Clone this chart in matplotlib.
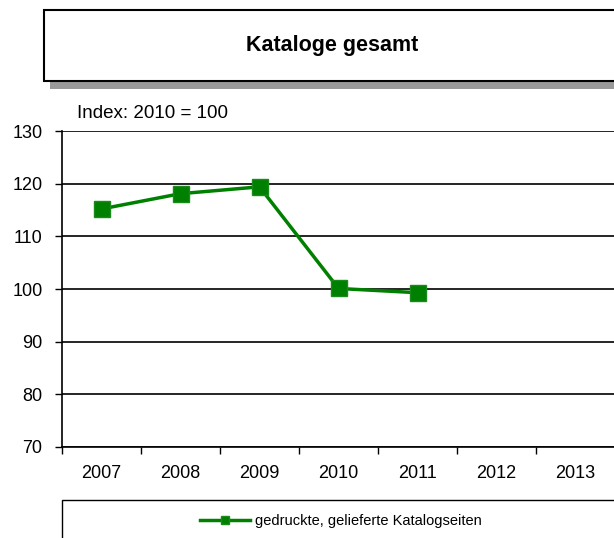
import matplotlib
matplotlib.use("Agg")
import matplotlib.pyplot as plt
import matplotlib.patches as patches

plt.rcParams["font.family"] = ["Liberation Sans", "DejaVu Sans"]

# data
years = ["2007", "2008", "2009", "2010", "2011", "2012", "2013"]
values = [115.2, 118.1, 119.4, 100.1, 99.3]
series_name = "gedruckte, gelieferte Katalogseiten"
title = "Kataloge gesamt"
note = "Index: 2010 = 100"

W, H = 614, 538
fig = plt.figure(figsize=(W / 100, H / 100), dpi=100)

# title box with shadow
shadow = patches.Rectangle((50 / W, 1 - 89 / H), (620 - 50) / W, 78 / H,
                           transform=fig.transFigure, facecolor="#999999",
                           edgecolor="none", zorder=0)
box = patches.Rectangle((44 / W, 1 - 81 / H), (620 - 44) / W, 71 / H,
                        transform=fig.transFigure, facecolor="white",
                        edgecolor="black", linewidth=1.5, zorder=1)
fig.patches.extend([shadow, box])
fig.text(332 / W, 1 - 46 / H, title, ha="center", va="center",
         fontsize=15.5, fontweight="bold", zorder=2)

# legend box
lbox = patches.Rectangle((62 / W, -0.1), (620 - 62) / W, 0.1 + 1 - 500 / H,
                         transform=fig.transFigure, facecolor="white",
                         edgecolor="black", linewidth=1, zorder=0)
fig.patches.append(lbox)

ax = fig.add_axes([62 / W, 1 - 447 / H, (615 - 62) / W, (447 - 131) / H])
x = list(range(len(values)))
ax.plot(x, values, color="#008000", linewidth=2.5, marker="s",
        markersize=11.5, markerfacecolor="#008000",
        markeredgecolor="#1a8a1a", label=series_name, zorder=3)

ax.set_ylim(70, 130)
ax.set_yticks(range(70, 131, 10))
ax.set_xlim(-0.5, len(years) - 0.5)
ax.set_xticks([i - 0.5 for i in range(len(years))])
ax.set_xticklabels([])
ax.set_xticks(range(len(years)), minor=True)
ax.set_xticklabels(years, minor=True)
ax.tick_params(axis="x", which="major", length=5, width=1, direction="out")
ax.tick_params(axis="x", which="minor", length=0, pad=13, labelsize=13)
ax.tick_params(axis="y", length=5, width=1, labelsize=13, pad=9)
ax.yaxis.grid(True, color="black", linewidth=1.2)
ax.set_axisbelow(True)
for s in ["top", "right"]:
    ax.spines[s].set_visible(False)
ax.spines["left"].set_linewidth(1.2)
ax.spines["bottom"].set_linewidth(1.2)

fig.text(77 / W, 1 - 113 / H, note, ha="left", va="center", fontsize=13.5)

fig.legend(loc="center", bbox_to_anchor=(341 / W, 1 - 521 / H),
           frameon=False, fontsize=10.5, handlelength=3.4, markerscale=0.55,
           handletextpad=0.4)

fig.savefig("out.png", dpi=100)
